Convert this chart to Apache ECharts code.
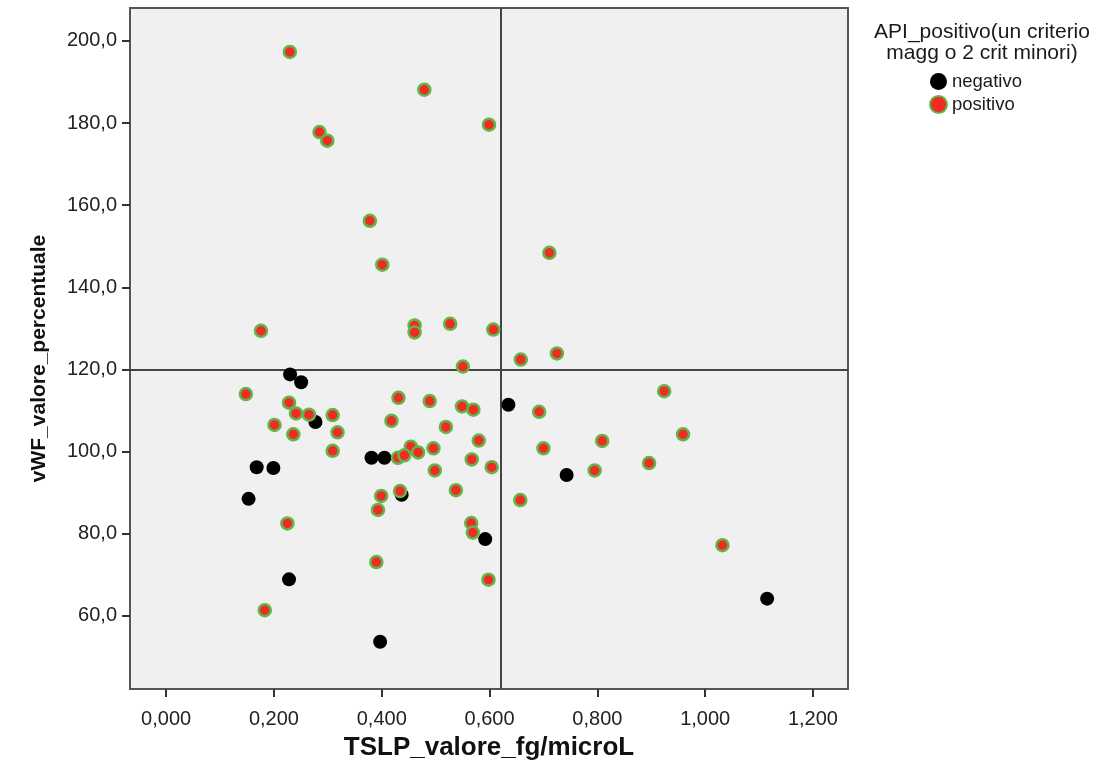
<!DOCTYPE html>
<html>
<head>
<meta charset="utf-8">
<script src="https://cdn.jsdelivr.net/npm/echarts@6/dist/echarts.min.js"></script>
<style>
html,body{margin:0;padding:0;background:#fff;}
#c{width:1117px;height:765px;}
</style>
</head>
<body>
<div id="c"></div>
<script>
// Data
const negX = [0.230, 0.2505, 0.277, 0.168, 0.199, 0.153, 0.228, 0.381, 0.405, 0.437, 0.592, 0.397, 0.635, 0.743, 1.115];
const negY = [118.8, 116.9, 107.2, 96.2, 96.0, 88.5, 68.9, 98.5, 98.5, 89.5, 78.7, 53.7, 111.4, 94.3, 64.2];

const posX = [0.2295, 0.2845, 0.299, 0.378, 0.479, 0.599, 0.176, 0.148, 0.228, 0.241,
              0.265, 0.309, 0.201, 0.318, 0.236, 0.309, 0.225, 0.183, 0.401, 0.711,
              0.461, 0.461, 0.527, 0.607, 0.658, 0.725, 0.5505, 0.431, 0.489, 0.549,
              0.570, 0.692, 0.418, 0.519, 0.580, 0.700, 0.454, 0.4675, 0.496, 0.430,
              0.442, 0.567, 0.4985, 0.604, 0.5375, 0.434, 0.399, 0.393, 0.566, 0.569,
              0.390, 0.598, 0.657, 0.795, 0.924, 0.809, 0.959, 0.896, 1.032];
const posY = [197.3, 177.8, 175.7, 156.2, 188.1, 179.6, 129.4, 114.0, 111.9, 109.3,
              109.0, 108.9, 106.5, 104.7, 104.2, 100.2, 82.5, 61.4, 145.5, 148.4,
              130.7, 129.0, 131.1, 129.7, 122.4, 123.9, 120.7, 113.1, 112.3, 111.0,
              110.2, 109.7, 107.5, 106.0, 102.7, 100.8, 101.2, 99.8, 100.8, 98.5,
              99.1, 98.1, 95.4, 96.2, 90.6, 90.4, 89.2, 85.8, 82.6, 80.3,
              73.1, 68.8, 88.2, 95.4, 114.7, 102.6, 104.2, 97.2, 77.2];

const xTicks = [0, 0.2, 0.4, 0.6, 0.8, 1.0, 1.2];
const yTicks = [60, 80, 100, 120, 140, 160, 180, 200];
const refX = 0.62;
const refY = 120;

const seriesNames = ['negativo', 'positivo'];
const legendTitle = 'API_positivo(un criterio\nmagg o 2 crit minori)';
const xTitle = 'TSLP_valore_fg/microL';
const yTitle = 'vWF_valore_percentuale';

const zip = (a, b) => a.map((v, i) => [v, b[i]]);

const chart = echarts.init(document.getElementById('c'), null, {renderer: 'canvas'});
const font = 'Liberation Sans, Arial, sans-serif';
chart.setOption({
  animation: false,
  backgroundColor: '#ffffff',
  grid: {
    left: 130, right: 269, top: 8, bottom: 76,
    outerBoundsMode: 'none', containLabel: false,
    show: true, backgroundColor: '#f0f0f0', borderColor: '#555', borderWidth: 2
  },
  title: {
    text: legendTitle,
    left: 982, top: 22, textAlign: 'center', padding: 0,
    textStyle: {fontFamily: font, fontSize: 21, fontWeight: 'normal', color: '#1a1a1a', lineHeight: 21}
  },
  legend: {
    orient: 'vertical', left: 929, top: 72, itemGap: 4, padding: 0,
    itemWidth: 17, itemHeight: 17,
    textStyle: {fontFamily: font, fontSize: 18.5, color: '#1a1a1a', padding: [0, 0, 0, 0]},
    data: [{name: seriesNames[0], icon: 'circle'}, {name: seriesNames[1], icon: 'circle'}]
  },
  xAxis: {
    type: 'value', min: -0.067, max: 1.265,
    name: xTitle, nameLocation: 'middle', nameGap: 46,
    nameTextStyle: {fontFamily: font, fontWeight: 'bold', fontSize: 26, color: '#111'},
    axisLine: {show: false, onZero: false},
    splitLine: {show: false},
    axisTick: {show: true, inside: false, length: 8, lineStyle: {color: '#333', width: 2}, customValues: xTicks},
    axisLabel: {
      customValues: xTicks, margin: 20,
      fontFamily: font, fontSize: 20, color: '#222',
      formatter: v => v.toFixed(3).replace('.', ',')
    }
  },
  yAxis: {
    type: 'value', min: 42.2, max: 208,
    name: yTitle, nameLocation: 'middle', nameGap: 80, nameRotate: 90,
    nameTextStyle: {fontFamily: font, fontWeight: 'bold', fontSize: 21, color: '#111', padding: [0, 20, 0, 0]},
    axisLine: {show: false, onZero: false},
    splitLine: {show: false},
    axisTick: {show: true, inside: false, length: 8, lineStyle: {color: '#333', width: 2}, customValues: yTicks},
    axisLabel: {
      customValues: yTicks, margin: 13,
      fontFamily: font, fontSize: 20, color: '#222',
      formatter: v => v.toFixed(1).replace('.', ',')
    }
  },
  series: [
    {
      name: seriesNames[0], type: 'scatter', symbol: 'circle', symbolSize: 14,
      itemStyle: {color: '#000000', opacity: 1},
      data: zip(negX, negY),
      markLine: {
        silent: true, symbol: 'none', label: {show: false},
        lineStyle: {color: '#444', width: 2, type: 'solid'},
        data: [{xAxis: refX}, {yAxis: refY}],
        z: 1
      }
    },
    {
      name: seriesNames[1], type: 'scatter', symbol: 'circle', symbolSize: 12,
      itemStyle: {color: '#f02a24', borderColor: '#62b548', borderWidth: 2.5, opacity: 1},
      data: zip(posX, posY)
    }
  ]
});
</script>
</body>
</html>
